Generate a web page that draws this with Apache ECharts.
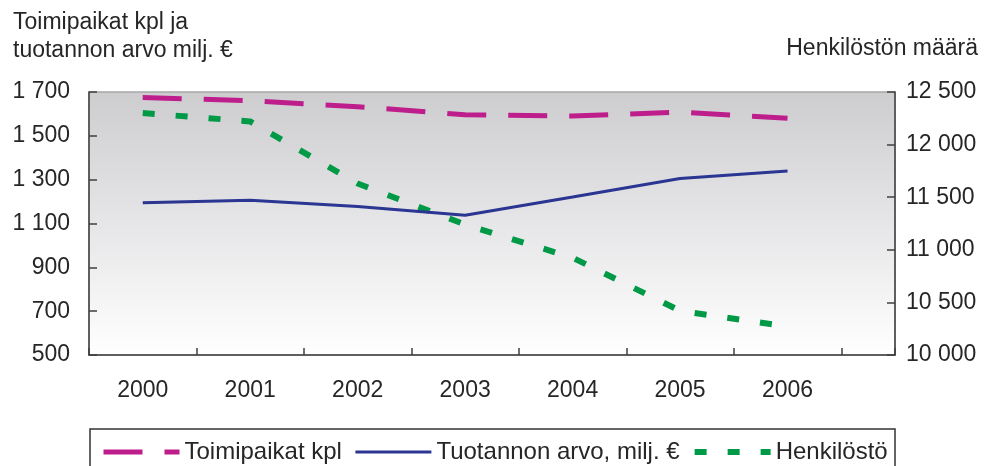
<!DOCTYPE html>
<html>
<head>
<meta charset="utf-8">
<script src="https://cdn.jsdelivr.net/npm/echarts@6/dist/echarts.min.js"></script>
<style>
  html, body { margin: 0; padding: 0; background: #ffffff; }
  #chart { width: 988px; height: 466px; }
</style>
</head>
<body>
<div id="chart"></div>
<script>
// ---- Data ----
const years = ['2000', '2001', '2002', '2003', '2004', '2005', '2006'];
const toimipaikat = [1675, 1660, 1633, 1596, 1590, 1608, 1580];        // left axis
const tuotannonArvo = [1195, 1206, 1178, 1138, 1221, 1305, 1340];      // left axis
const henkilosto = [12300, 12220, 11630, 11240, 10925, 10420, 10270];  // right axis

const seriesNames = ['Toimipaikat kpl', 'Tuotannon arvo, milj. €', 'Henkilöstö'];
const leftTitle = 'Toimipaikat kpl ja\ntuotannon arvo milj. €';
const rightTitle = 'Henkilöstön määrä';

const FONT = '"Liberation Sans", Arial, sans-serif';
const fmt = v => String(v).replace(/\B(?=(\d{3})+(?!\d))/g, ' ');
const pairs = arr => arr.map((v, i) => [i, v]);

const chart = echarts.init(document.getElementById('chart'), null, { renderer: 'canvas' });

const axisLineStyle = { color: '#404040', width: 1.5 };

chart.setOption({
  animation: false,
  textStyle: { fontFamily: FONT },
  title: [
    { text: leftTitle, left: 8, top: 4,
      textStyle: { fontSize: 23, fontWeight: 'normal', lineHeight: 28, color: '#262626', fontFamily: FONT } },
    { text: rightTitle, right: 5, top: 30,
      textStyle: { fontSize: 23, fontWeight: 'normal', lineHeight: 28, color: '#262626', fontFamily: FONT } }
  ],
  grid: {
    left: 89, right: 93, top: 92, bottom: 111,
    show: true,
    borderWidth: 1.5,
    borderColor: '#A8A8A8',
    backgroundColor: {
      type: 'linear', x: 0, y: 0, x2: 0, y2: 1,
      colorStops: [
        { offset: 0, color: '#CDCDCF' },
        { offset: 0.5, color: '#E6E6E8' },
        { offset: 1, color: '#FFFFFF' }
      ]
    }
  },
  xAxis: [
    {
      // data axis: ticks between the years
      type: 'value', min: -0.5, max: 7, interval: 1, position: 'bottom',
      axisLine: { show: true, onZero: false, lineStyle: axisLineStyle },
      axisTick: { show: true, inside: true, length: 7, lineStyle: axisLineStyle },
      splitLine: { show: false },
      axisLabel: { show: false }
    },
    {
      // label axis: year labels centred on the data points
      type: 'value', min: -0.5, max: 7, interval: 0.5, position: 'bottom',
      axisLine: { show: false, onZero: false },
      axisTick: { show: false },
      splitLine: { show: false },
      axisLabel: {
        margin: 24, fontSize: 23, color: '#262626', fontFamily: FONT,
        formatter: v => {
          const r = Math.round(v);
          return (Math.abs(v - r) < 1e-6 && r >= 0 && r < years.length) ? years[r] : '';
        }
      }
    }
  ],
  yAxis: [
    {
      type: 'value', min: 500, max: 1700, interval: 200, position: 'left',
      axisLine: { show: true, onZero: false, lineStyle: axisLineStyle },
      axisTick: { show: true, inside: true, length: 8, lineStyle: axisLineStyle },
      splitLine: { show: false },
      axisLabel: { margin: 19, fontSize: 23, color: '#262626', fontFamily: FONT, formatter: fmt }
    },
    {
      type: 'value', min: 10000, max: 12500, interval: 500, position: 'right',
      axisLine: { show: true, onZero: false, lineStyle: axisLineStyle },
      axisTick: { show: true, inside: true, length: 8, lineStyle: axisLineStyle },
      splitLine: { show: false },
      axisLabel: { margin: 11, fontSize: 23, color: '#262626', fontFamily: FONT, formatter: fmt }
    }
  ],
  legend: {
    left: 101, top: 440, padding: 0,
    itemWidth: 76, itemHeight: 14, itemGap: 12,
    itemStyle: { opacity: 0, borderWidth: 0 },
    lineStyle: { width: 'inherit', type: 'inherit', color: 'inherit', cap: 'butt' },
    textStyle: { fontSize: 24, color: '#262626', fontFamily: FONT },
    data: seriesNames
  },
  graphic: [
    { type: 'rect', silent: true, z: 100,
      shape: { x: 90, y: 429, width: 805, height: 60 },
      style: { fill: 'none', stroke: '#333333', lineWidth: 1.5 } }
  ],
  series: [
    {
      name: seriesNames[2], type: 'line', xAxisIndex: 0, yAxisIndex: 1,
      data: pairs(henkilosto), symbol: 'none',
      lineStyle: { color: '#009A46', width: 6, type: [12, 21] },
      itemStyle: { color: '#009A46' }
    },
    {
      name: seriesNames[1], type: 'line', xAxisIndex: 0, yAxisIndex: 0,
      data: pairs(tuotannonArvo), symbol: 'none',
      lineStyle: { color: '#2B3592', width: 3 },
      itemStyle: { color: '#2B3592' }
    },
    {
      name: seriesNames[0], type: 'line', xAxisIndex: 0, yAxisIndex: 0,
      data: pairs(toimipaikat), symbol: 'none',
      lineStyle: { color: '#BE1E8C', width: 5, type: [39, 22] },
      itemStyle: { color: '#BE1E8C' }
    }
  ]
});
</script>
</body>
</html>
